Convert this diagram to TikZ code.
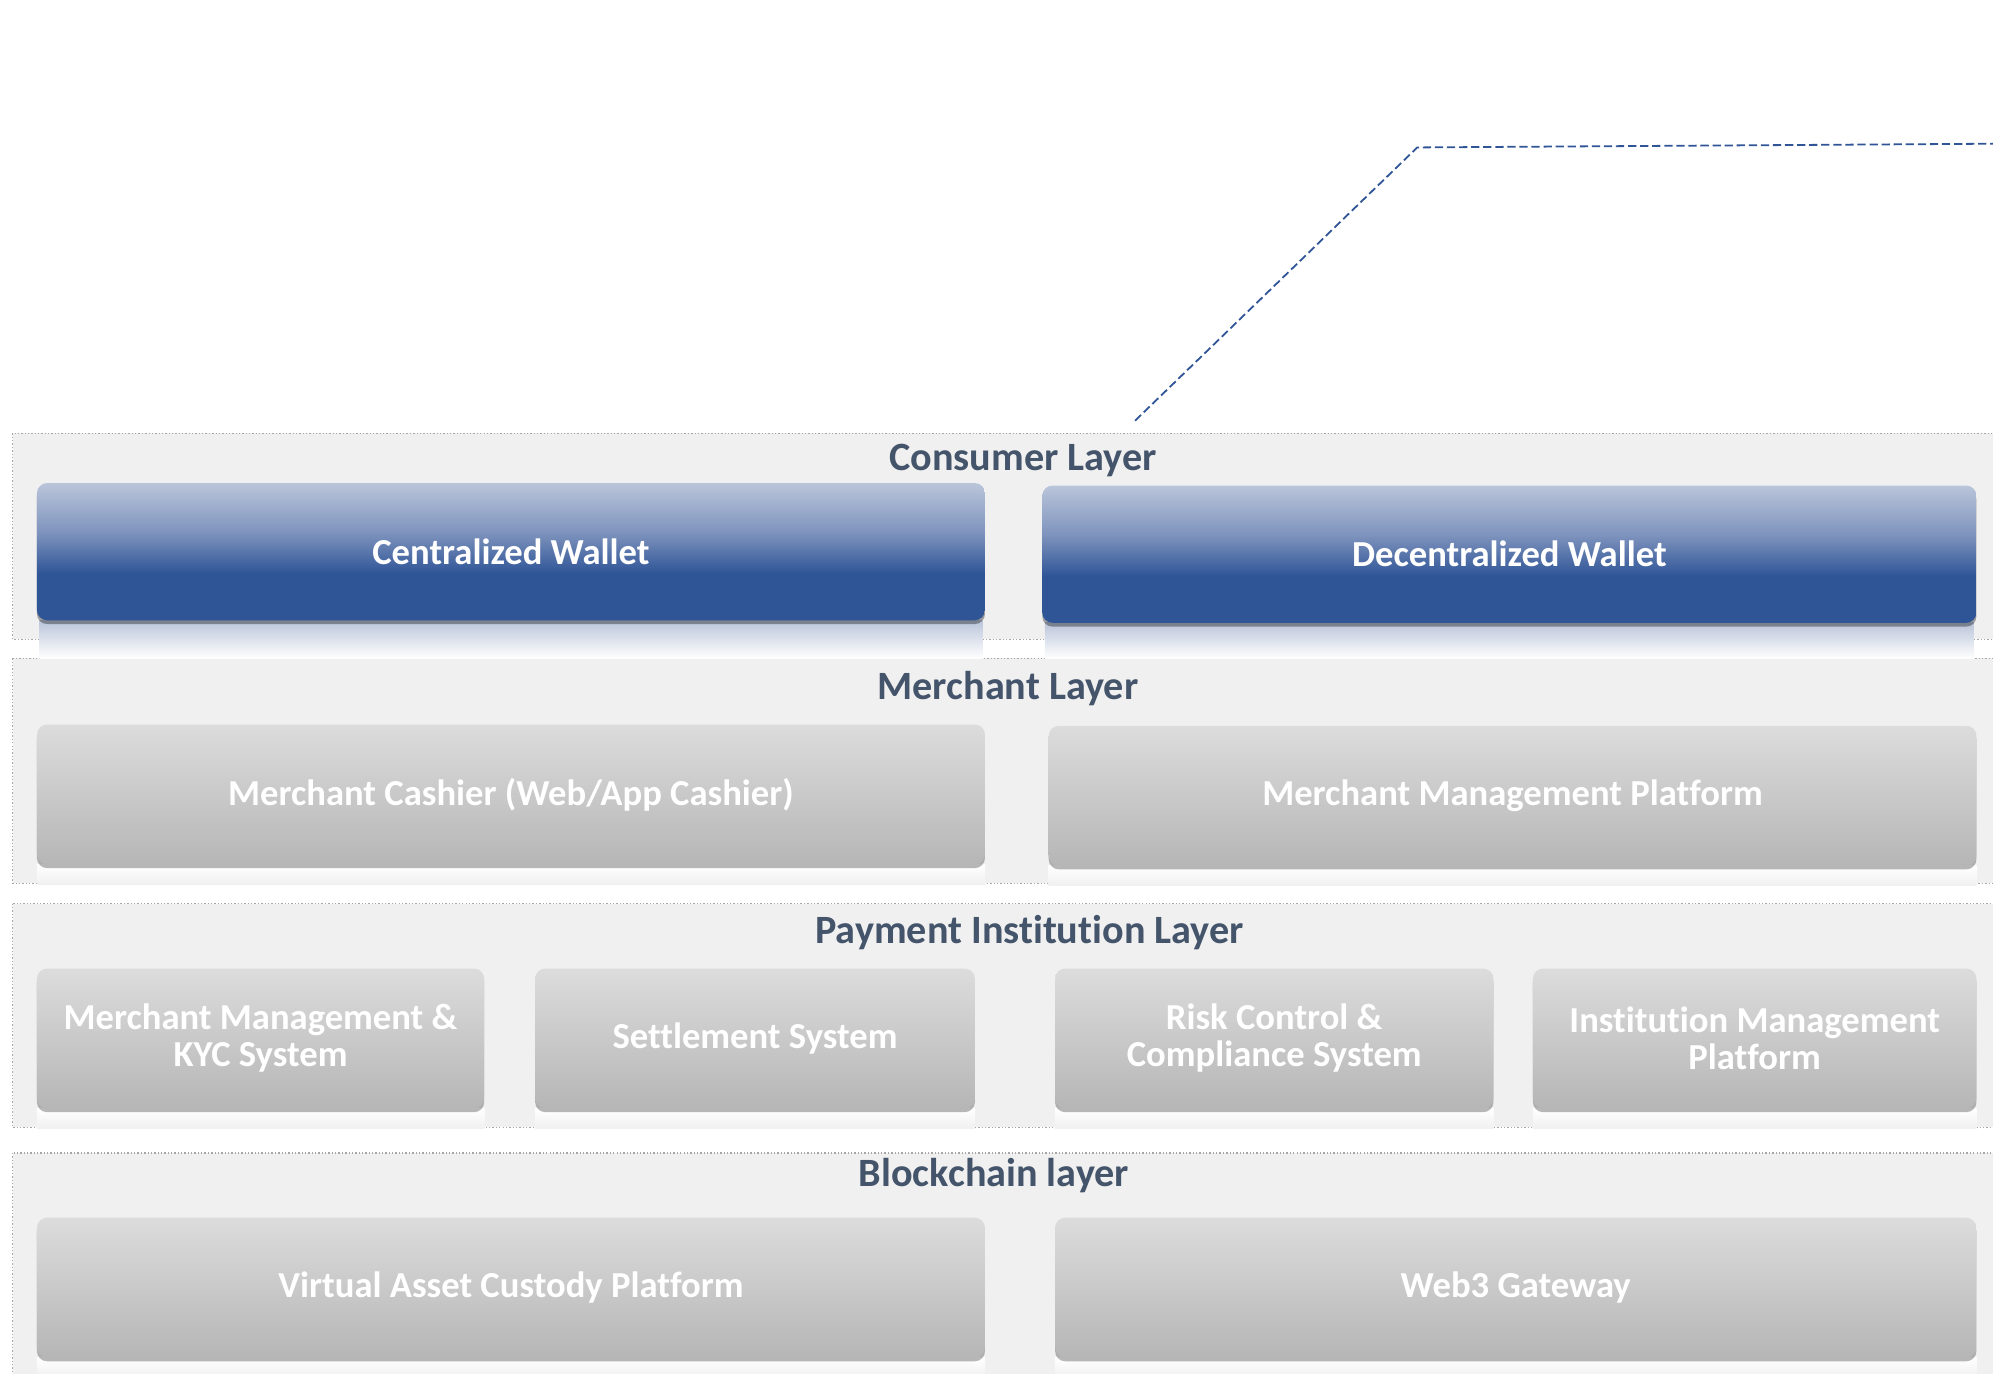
\documentclass[tikz,border=0pt]{standalone}
\usepackage{fontspec}
\setmainfont{Carlito}[Ligatures=NoCommon]
\usetikzlibrary{positioning, shadows}
\usepackage{xcolor}

\definecolor{layerfill}{HTML}{F0F0F0}
\definecolor{layerline}{HTML}{A6A6A6}
\definecolor{titleink}{HTML}{44546A}
\definecolor{linkblue}{HTML}{2F5597}
\definecolor{bartop}{HTML}{BAC5DA}
\definecolor{barmid}{HTML}{7E93BD}
\definecolor{barbot}{HTML}{2F5597}
\definecolor{greytop}{HTML}{DCDCDC}
\definecolor{greybot}{HTML}{B6B6B6}
\pgfdeclareverticalshading{bluebar}{100bp}{color(0bp)=(barbot); color(25bp)=(barbot); color(42bp)=(barbot); color(57bp)=(barmid); color(75bp)=(bartop); color(100bp)=(bartop)}
\pgfdeclareverticalshading{greybar}{100bp}{color(0bp)=(greybot); color(25bp)=(greybot); color(75bp)=(greytop); color(100bp)=(greytop)}

\begin{document}
\begin{tikzpicture}[x=0.02cm, y=-0.02cm]
\tikzset{
layer/.style={fill=layerfill, draw=layerline, line width=0.6pt, dash pattern=on 0.6pt off 0.9pt}, % dotted band of one layer
layertitle/.style={text=titleink, font=\bfseries\fontsize{18}{20}\selectfont, inner sep=0pt},
walletbox/.style={rounded corners=0.16cm, shading=bluebar, text=white, align=center,
  font=\bfseries\fontsize{16.4}{17}\selectfont, minimum height=2.16cm,
  drop shadow={shadow xshift=0cm, shadow yshift=-0.06cm, opacity=0.35, fill=black}},
greybox/.style={rounded corners=0.16cm, shading=greybar, text=white, align=center,
  font=\bfseries\fontsize{16.4}{16.6}\selectfont, minimum height=2.2cm,
  drop shadow={shadow xshift=0cm, shadow yshift=-0.06cm, opacity=0.4, fill=black!70}},
linkdash/.style={draw=linkblue, line width=0.8pt, dash pattern=on 0.13cm off 0.06cm},
}
\useasboundingbox (0,0) rectangle (1568,1081);
\clip (0,0) rectangle (1568,1081);

% layer bands
\draw[layer] (10,341) rectangle (1640,503);
\draw[layer] (10,518) rectangle (1640,695);
\draw[layer] (10,711) rectangle (1640,887);
\draw[layer] (10,907) rectangle (1640,1120);

% reflections under the boxes
\shade[top color=bartop, bottom color=white] (31,488) rectangle (773,518);
\shade[top color=bartop, bottom color=white] (822,490) rectangle (1553,518);
\foreach \xa/\xb/\yb in {29/775/680, 825/1555/681, 29/381/872, 421/767/872, 830/1175/872, 1206/1555/872, 29/775/1068, 830/1555/1068}
  \shade[top color=white, bottom color=layerfill] (\xa,\yb) rectangle (\xb,\yb+16);

% titles
\node[layertitle] (consumer) at (805,362) {Consumer Layer};
\node[layertitle] (merchant) at (793,542) {Merchant Layer};
\node[layertitle] (payment) at (810,734) {Payment Institution Layer};
\node[layertitle] (blockchain) at (782,925) {Blockchain layer};

% consumer layer
\node[walletbox, minimum width=14.92cm] (cwallet) at (402,434) {Centralized Wallet};
\node[walletbox, minimum width=14.7cm] (dwallet) at (1187.5,436) {Decentralized Wallet};

% merchant layer
\node[greybox, minimum width=14.92cm] (cashier) at (402,625) {Merchant Cashier (Web/App Cashier)};
\node[greybox, minimum width=14.6cm] (mplatform) at (1190,626) {Merchant Management Platform};

% payment institution layer
\node[greybox, minimum width=7.04cm] (mkyc) at (205,817) {Merchant Management \&\\KYC System};
\node[greybox, minimum width=6.92cm] (settle) at (594,817) {Settlement System};
\node[greybox, minimum width=6.9cm] (riskctl) at (1002.5,817) {Risk Control \&\\Compliance System};
\node[greybox, minimum width=6.98cm] (iplatform) at (1380.5,817) {Institution Management\\Platform};

% blockchain layer
\node[greybox, minimum width=14.92cm] (custody) at (402,1013) {Virtual Asset Custody Platform};
\node[greybox, minimum width=14.5cm] (gateway) at (1192.5,1013) {Web3 Gateway};

% callout line
\coordinate (linkfoot) at (893,331);
\coordinate (linkbend) at (1115,116);
\coordinate (linkend) at (1580,113);
\draw[linkdash] (linkfoot) -- (linkbend) -- (linkend);
\end{tikzpicture}
\end{document}
